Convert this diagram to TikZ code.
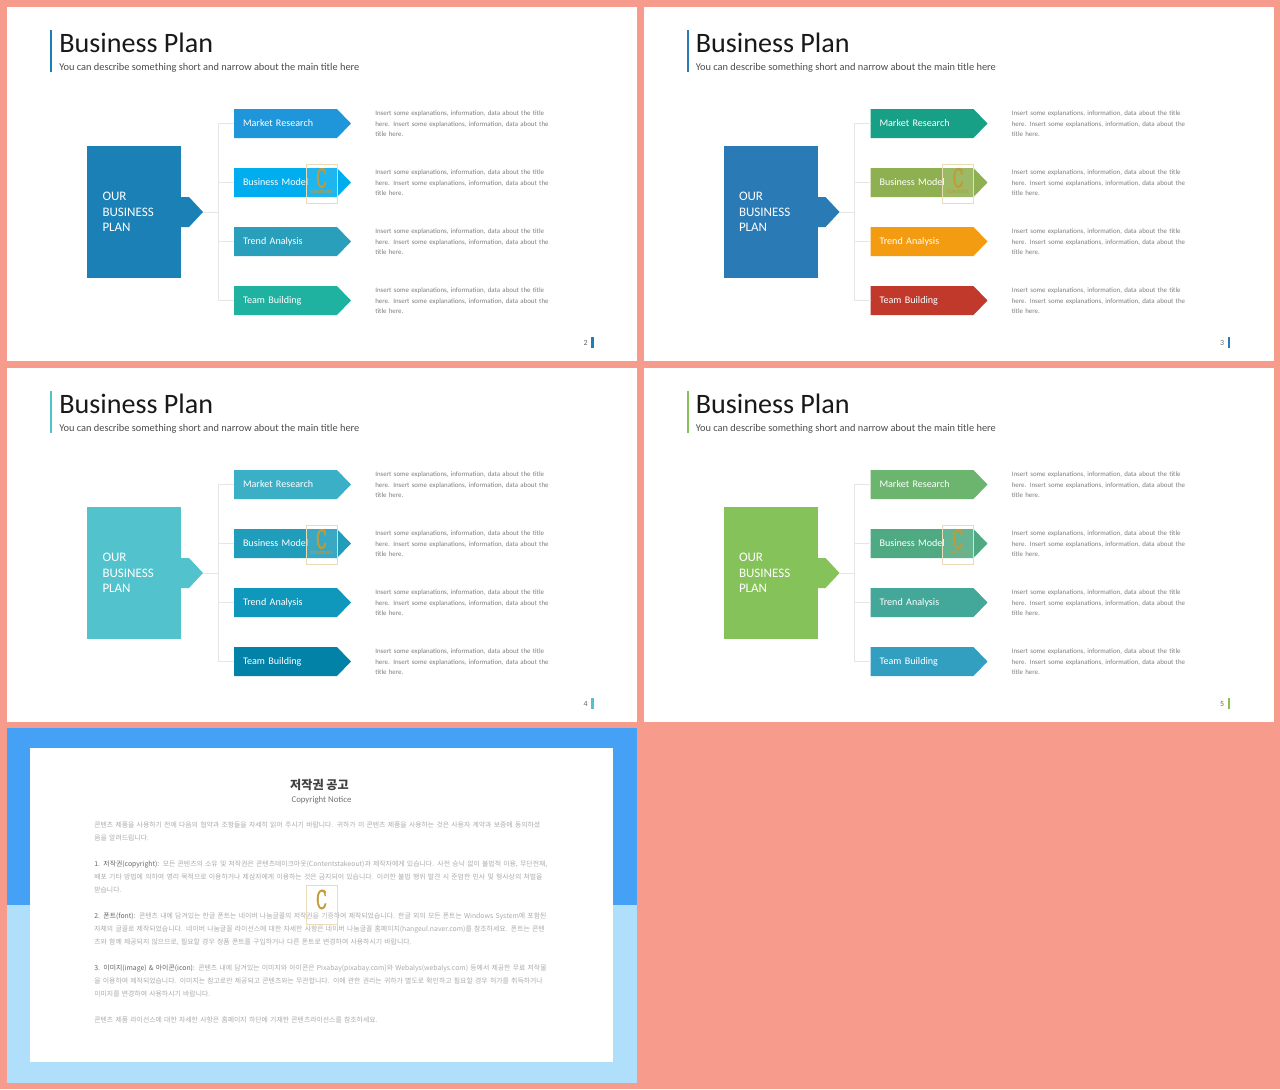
\documentclass[tikz,border=0pt]{standalone}
\usepackage{fontspec}
\usepackage{graphicx}
\setmainfont{Carlito}
\newfontfamily\kofont{Noto Sans CJK KR}
\newfontfamily\markfont[FakeBold=3]{DejaVu Serif}
\usetikzlibrary{shapes.symbols}

\definecolor{pagebg}{HTML}{F79C8D}
\definecolor{link}{HTML}{E6E6E6}
\definecolor{gold}{HTML}{C49A35}
\definecolor{notetext}{HTML}{7F7F7F}
\definecolor{legaltext}{HTML}{ABABAB}
\definecolor{toptone}{HTML}{45A1F5}
\definecolor{lowtone}{HTML}{B0DFFB}
% slide colours
\definecolor{mainA}{HTML}{1A80B6}
\definecolor{oneA}{HTML}{1E96D9}
\definecolor{twoA}{HTML}{00ADEF}
\definecolor{threeA}{HTML}{2A9FBC}
\definecolor{fourA}{HTML}{20B2A0}
\definecolor{mainB}{HTML}{2A7AB5}
\definecolor{oneB}{HTML}{17A085}
\definecolor{twoB}{HTML}{8FB050}
\definecolor{threeB}{HTML}{F39C12}
\definecolor{fourB}{HTML}{C0392B}
\definecolor{mainC}{HTML}{52C3CC}
\definecolor{oneC}{HTML}{3AAFC5}
\definecolor{twoC}{HTML}{1F9DBB}
\definecolor{threeC}{HTML}{0F97BC}
\definecolor{fourC}{HTML}{0382A8}
\definecolor{mainD}{HTML}{85C25A}
\definecolor{oneD}{HTML}{6CB56E}
\definecolor{twoD}{HTML}{4FAA83}
\definecolor{threeD}{HTML}{43A79A}
\definecolor{fourD}{HTML}{329FC1}

\newcommand{\notetxt}{Insert some explanations, information, data about the title\\here. Insert some explanations, information, data about the\\title here.}

% small stamp that sits over the slides
\newcommand{\stamp}[3]{%
    \node[stampbox] (#1) at (#2) {};
    \node[font=\markfont\fontsize{14.5}{14.5}\selectfont, text=gold, inner sep=0pt] (#1-c) at ([yshift=0.11cm]#1.center) {\scalebox{0.55}[1]{C}};
    #3
}

% args: x shift, y shift, main colour, four arrow colours, page number
\newcommand{\planslide}[8]{%
    \fill[white] (#1+7,#2+7) rectangle (#1+637,#2+361);
    \begin{scope}[shift={(#1,#2)}, name prefix=s#8-]
    \fill[#3] (50,30) rectangle (52,72);
    \node[titletxt] (title) at (59,52) {Business Plan};
    \node[subtxt] (sub) at (59,70.5) {You can describe something short and narrow about the main title here};

    \node[mainbox, fill=#3] (main) at (134,212) {OUR\\BUSINESS\\PLAN};
    \node[tabbox, fill=#3] (tab) at (181,212) {};

    \node[arrowbox, fill=#4] (a1) at (234,123.5) {Market Research};
    \node[arrowbox, fill=#5] (a2) at (234,182.5) {Business Model};
    \node[arrowbox, fill=#6] (a3) at (234,241.5) {Trend Analysis};
    \node[arrowbox, fill=#7] (a4) at (234,300.5) {Team Building};

    \coordinate (hub) at (218,212);
    \draw[linkline] (tab.east) -- (hub);
    \draw[linkline] (hub) |- (a1.west);
    \draw[linkline] (hub) |- (a2.west);
    \draw[linkline] (hub) |- (a3.west);
    \draw[linkline] (hub) |- (a4.west);

    \node[notebox] (n1) at (375,123.7) {\notetxt};
    \node[notebox] (n2) at (375,182.7) {\notetxt};
    \node[notebox] (n3) at (375,241.7) {\notetxt};
    \node[notebox] (n4) at (375,300.7) {\notetxt};

    \node[pagetxt] (num) at (585.5,342.5) {#8};
    \fill[#3] (591,337) rectangle (593.5,348);

    \stamp{st}{321.5,183.5}{\node[font=\bfseries\fontsize{2.8}{3}\selectfont, text=gold, inner sep=0pt] (st-t) at (321.5,192) {CONTENTS};}
    \end{scope}
}

\begin{document}
\begin{tikzpicture}[
        x=0.02cm, y=-0.02cm,
        titletxt/.style={anchor=base west, inner sep=0pt, text=black!90, font=\fontsize{16}{19}\selectfont},
        subtxt/.style={anchor=base west, inner sep=0pt, text=black!70, font=\fontsize{5.9}{8}\selectfont},
        mainbox/.style={rectangle, minimum width=1.88cm, minimum height=2.64cm, text width=1.26cm, inner sep=0pt, outer sep=0pt, align=left, text=white, font=\fontsize{7.4}{8.9}\selectfont},
        tabbox/.style={signal, signal to=east, signal pointer angle=94, anchor=west, minimum width=0.44cm, minimum height=0.6cm, inner sep=0pt, outer sep=0pt},
        arrowbox/.style={signal, signal to=east, signal pointer angle=92, anchor=west, minimum width=2.34cm, minimum height=0.58cm, text width=1.7cm, text height=1.5ex, text depth=0.7ex, inner xsep=0.18cm, inner ysep=0pt, outer sep=0pt, align=left, text=white, font=\fontsize{5.75}{7}\selectfont},
        linkline/.style={draw=link, line width=0.5pt},
        notebox/.style={anchor=west, inner sep=0pt, text width=3.6cm, align=left, text=notetext, font=\fontsize{3.92}{5.8}\selectfont},
        pagetxt/.style={inner sep=0pt, text=black!60, font=\fontsize{4.5}{5}\selectfont},
        stampbox/.style={rectangle, draw=gold!35, line width=0.3pt, fill=white, fill opacity=0.12, minimum width=0.62cm, minimum height=0.78cm, inner sep=0pt},
        legalbox/.style={anchor=north west, inner sep=0pt, text width=9.3cm, align=left, text=legaltext, font=\kofont\fontsize{3.9}{7.4}\selectfont}
    ]

    \useasboundingbox (0,0) rectangle (1280,1089);
    \fill[pagebg] (0,0) rectangle (1280,1089);

    \planslide{0}{0}{mainA}{oneA}{twoA}{threeA}{fourA}{2}
    \planslide{636.5}{0}{mainB}{oneB}{twoB}{threeB}{fourB}{3}
    \planslide{0}{361}{mainC}{oneC}{twoC}{threeC}{fourC}{4}
    \planslide{636.5}{361}{mainD}{oneD}{twoD}{threeD}{fourD}{5}

    % last slide
    \fill[toptone] (7,728) rectangle (637,905);
    \fill[lowtone] (7,905) rectangle (637,1083);
    \fill[white] (30,748) rectangle (613,1062);

    \node[font=\kofont\bfseries\fontsize{6.9}{8}\selectfont, text=black!75, inner sep=0pt] (head) at (319.5,785) {저작권 공고};
    \node[font=\fontsize{5}{6}\selectfont, text=black!55, inner sep=0pt] (subhead) at (321.5,800) {Copyright Notice};

    \node[legalbox] (p0) at (94,821) {콘텐츠 제품을 사용하기 전에 다음의 협약과 조항들을 자세히 읽어 주시기 바랍니다. 귀하가 이 콘텐츠 제품을 사용하는 것은 사용자 계약과 보증에 동의하셨\\음을 알려드립니다.};
    \node[legalbox] (p1) at (94,860) {\textcolor{black!60}{1. 저작권(copyright):} 모든 콘텐츠의 소유 및 저작권은 콘텐츠테이크아웃(Contentstakeout)과 제작자에게 있습니다. 사전 승낙 없이 불법적 이용, 무단전재,\\배포 기타 방법에 의하여 영리 목적으로 이용하거나 제삼자에게 이용하는 것은 금지되어 있습니다. 이러한 불법 행위 발견 시 준엄한 민사 및 형사상의 처벌을\\받습니다.};
    \node[legalbox] (p2) at (94,912) {\textcolor{black!60}{2. 폰트(font):} 콘텐츠 내에 담겨있는 한글 폰트는 네이버 나눔글꼴의 저작권을 기증하여 제작되었습니다. 한글 외의 모든 폰트는 Windows System에 포함된\\자체의 글꼴로 제작되었습니다. 네이버 나눔글꼴 라이선스에 대한 자세한 사항은 네이버 나눔글꼴 홈페이지(hangeul.naver.com)를 참조하세요. 폰트는 콘텐\\츠와 함께 제공되지 않으므로, 필요할 경우 정품 폰트를 구입하거나 다른 폰트로 변경하여 사용하시기 바랍니다.};
    \node[legalbox] (p3) at (94,964) {\textcolor{black!60}{3. 이미지(image) \& 아이콘(icon):} 콘텐츠 내에 담겨있는 이미지와 아이콘은 Pixabay(pixabay.com)와 Webalys(webalys.com) 등에서 제공한 무료 저작물\\을 이용하여 제작되었습니다. 이미지는 참고로만 제공되고 콘텐츠와는 무관합니다. 이에 관한 권리는 귀하가 별도로 확인하고 필요할 경우 허가를 취득하거나\\이미지를 변경하여 사용하시기 바랍니다.};
    \node[legalbox] (p4) at (94,1016) {콘텐츠 제품 라이선스에 대한 자세한 사항은 홈페이지 하단에 기재한 콘텐츠라이선스를 참조하세요.};

    \stamp{last}{321.5,905}{}

\end{tikzpicture}
\end{document}
